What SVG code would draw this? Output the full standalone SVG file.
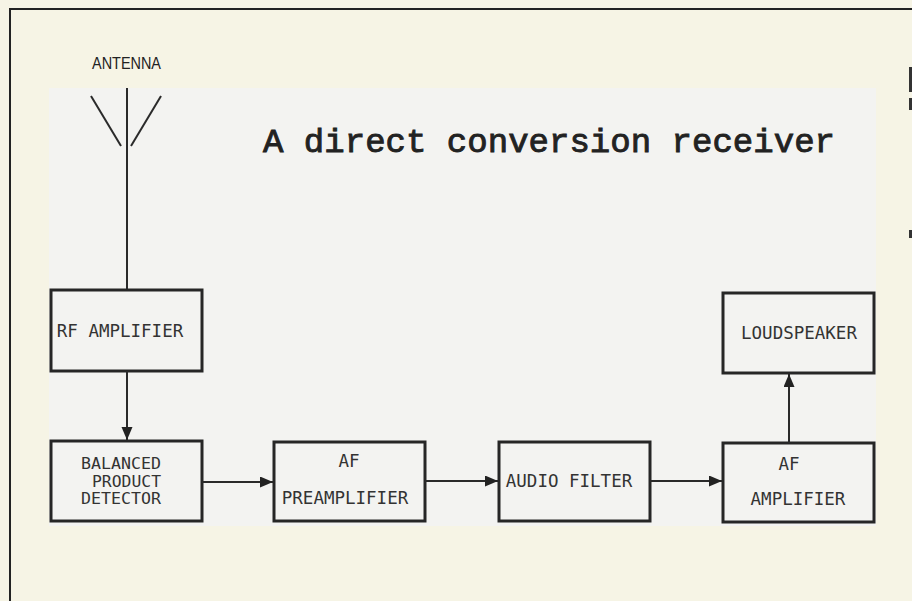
<svg xmlns="http://www.w3.org/2000/svg" width="912" height="601" viewBox="0 0 912 601">
<defs>
<style>
.box{fill:none;stroke:#262626;stroke-width:3}
.lbl{font-family:"DejaVu Sans Mono",monospace;font-size:17.5px;fill:#333}
.sm{font-family:"DejaVu Sans Mono",monospace;font-size:15px;fill:#333}
.wire{fill:none;stroke:#2a2a2a;stroke-width:2}
</style>
<marker id="ah" markerUnits="userSpaceOnUse" markerWidth="14" markerHeight="12" refX="13" refY="5.5" orient="auto">
<path d="M0,0 L13,5.5 L0,11 Z" fill="#222"/>
</marker>
</defs>
<rect x="0" y="0" width="912" height="601" fill="#f6f4e5"/>
<rect x="49" y="88" width="827" height="438" fill="#f3f3f1"/>
<path d="M10,601 V9 H912" fill="none" stroke="#222" stroke-width="2"/>
<rect x="909" y="67" width="3" height="25" fill="#333"/>
<rect x="909" y="98" width="3" height="12" fill="#333"/>
<rect x="909" y="230" width="3" height="8" fill="#333"/>
<text x="92" y="69" font-family="'Liberation Sans',sans-serif" font-size="16.5" fill="#222" textLength="69" lengthAdjust="spacingAndGlyphs">ANTENNA</text>
<text x="263" y="152" font-family="'Liberation Mono',monospace" font-size="34" fill="#222" stroke="#222" stroke-width="0.9" textLength="572" lengthAdjust="spacingAndGlyphs">A direct conversion receiver</text>
<g id="antenna" class="wire">
<line x1="127" y1="88" x2="127" y2="290"/>
<line x1="91" y1="96" x2="121" y2="146"/>
<line x1="161" y1="96" x2="131" y2="146"/>
</g>
<g id="rf-amplifier">
<rect class="box" x="51" y="290" width="151" height="81"/>
<text class="lbl" x="120" y="337" text-anchor="middle">RF AMPLIFIER</text>
</g>
<g id="balanced-product-detector">
<rect class="box" x="51" y="441" width="151" height="80"/>
<text class="sm" x="161" y="469" text-anchor="end" textLength="80" lengthAdjust="spacingAndGlyphs">BALANCED</text>
<text class="sm" x="161" y="486.5" text-anchor="end" textLength="69" lengthAdjust="spacingAndGlyphs">PRODUCT</text>
<text class="sm" x="161" y="504" text-anchor="end" textLength="80" lengthAdjust="spacingAndGlyphs">DETECTOR</text>
</g>
<g id="af-preamplifier">
<rect class="box" x="274" y="442" width="151" height="79"/>
<text class="lbl" x="349" y="467" text-anchor="middle">AF</text>
<text class="lbl" x="345" y="504" text-anchor="middle">PREAMPLIFIER</text>
</g>
<g id="audio-filter">
<rect class="box" x="499" y="442" width="151" height="79"/>
<text class="lbl" x="569" y="487" text-anchor="middle">AUDIO FILTER</text>
</g>
<g id="af-amplifier">
<rect class="box" x="723" y="443" width="151" height="79"/>
<text class="lbl" x="789" y="470" text-anchor="middle">AF</text>
<text class="lbl" x="798" y="505" text-anchor="middle">AMPLIFIER</text>
</g>
<g id="loudspeaker">
<rect class="box" x="723" y="293" width="151" height="80"/>
<text class="lbl" x="799" y="339" text-anchor="middle">LOUDSPEAKER</text>
</g>
<g id="connectors" class="wire">
<line x1="127" y1="371" x2="127" y2="440" marker-end="url(#ah)"/>
<line x1="202" y1="482" x2="273" y2="482" marker-end="url(#ah)"/>
<line x1="425" y1="481" x2="498" y2="481" marker-end="url(#ah)"/>
<line x1="650" y1="481" x2="722" y2="481" marker-end="url(#ah)"/>
<line x1="789" y1="443" x2="789" y2="374" marker-end="url(#ah)"/>
</g>
</svg>
